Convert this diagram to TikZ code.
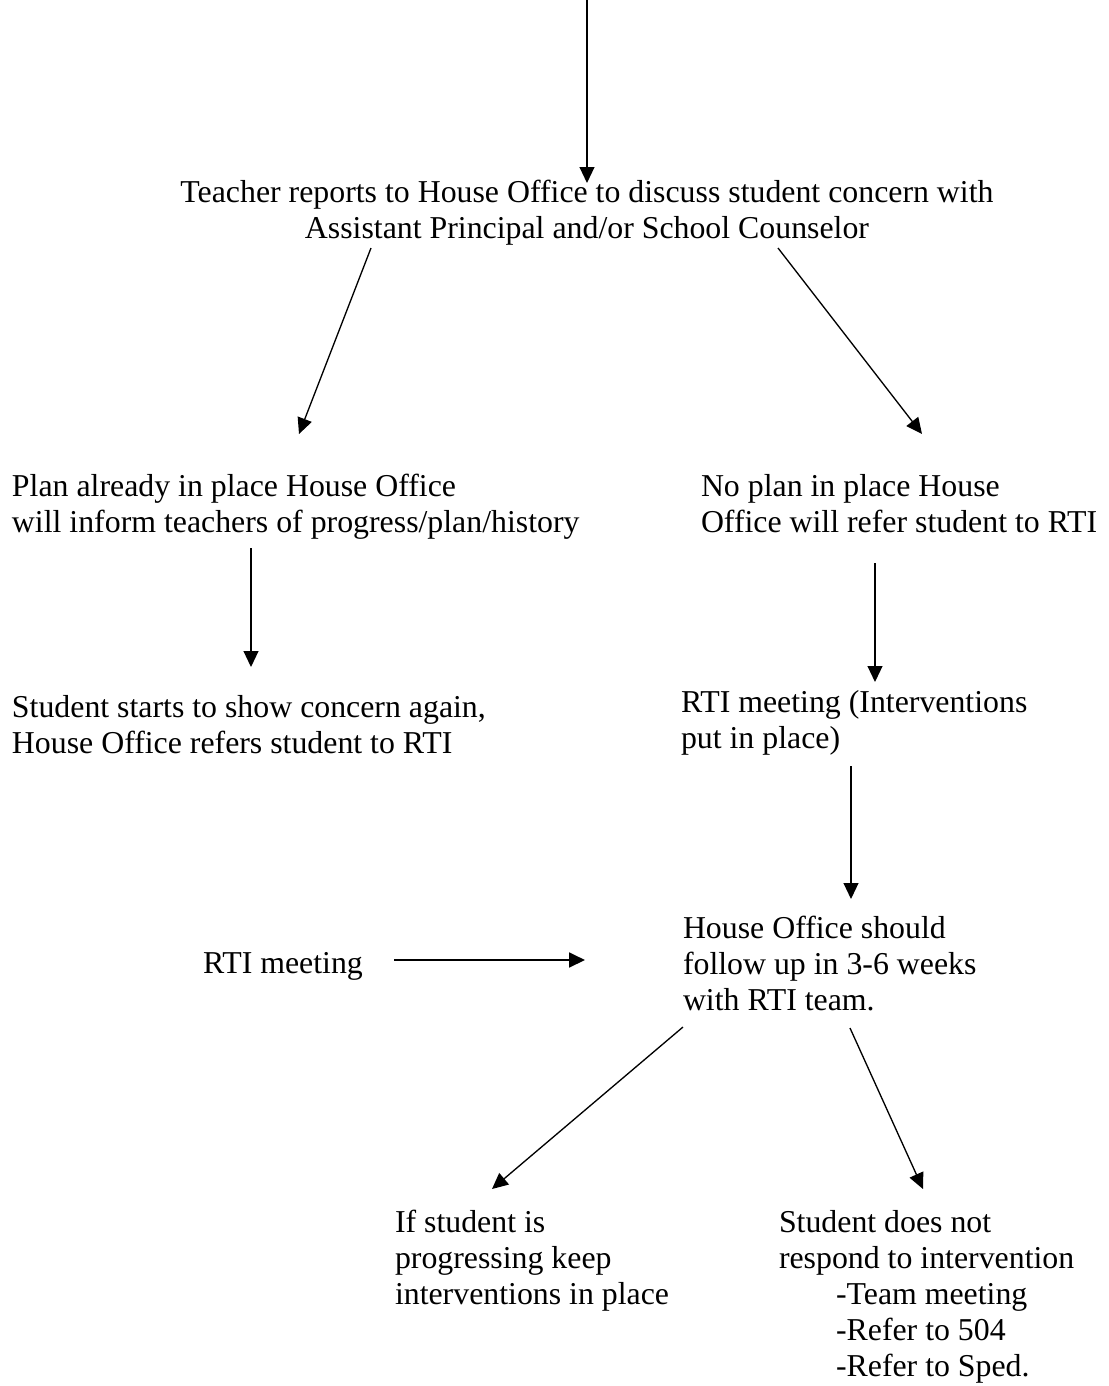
\documentclass[tikz,border=0pt]{standalone}
\usepackage{fontspec}
\setmainfont{Liberation Serif}
\usetikzlibrary{arrows.meta}
\begin{document}
\begin{tikzpicture}[x=0.377pt,y=-0.377pt,
  txt/.style={inner sep=0pt,outer sep=0pt,font=\fontsize{12}{13.57}\selectfont},
  lblock/.style={txt,align=left,anchor=base west},
  cblock/.style={txt,align=center,anchor=base},
  conn/.style={line width=0.5pt,-{Triangle[length=6pt,width=5.6pt]}},
  connthick/.style={line width=0.8pt,-{Triangle[length=6pt,width=5.6pt]}}]
\useasboundingbox (0,0) rectangle (1109,1386);
\fill[white] (0,0) rectangle (1109,1386);

% text blocks (anchored at the baseline of their last line)
\node[cblock] (teach) at (587,238) {Teacher reports to House Office to discuss student concern with\\Assistant Principal and/or School Counselor};
\node[lblock] (plan) at (12,532) {Plan already in place House Office\\will inform teachers of progress/plan/history};
\node[lblock] (noplan) at (701,532) {No plan in place House\\Office will refer student to RTI};
\node[lblock] (again) at (12,753) {Student starts to show concern again,\\House Office refers student to RTI};
\node[lblock] (rtim) at (681,748) {RTI meeting (Interventions\\put in place)};
\node[lblock] (follow) at (683,1010) {House Office should\\follow up in 3-6 weeks\\with RTI team.};
\node[lblock] (rtileft) at (203,973) {RTI meeting};
\node[lblock] (ifstud) at (395,1304) {If student is\\progressing keep\\interventions in place};
\node[lblock] (notresp) at (779,1376) {Student does not\\respond to intervention\\\hspace{21.5pt}-Team meeting\\\hspace{21.5pt}-Refer to 504\\\hspace{21.5pt}-Refer to Sped.};

% connector end points
\coordinate (a0s) at (587,0);    \coordinate (a0e) at (587,183);
\coordinate (a1s) at (371,248);  \coordinate (a1e) at (299,434);
\coordinate (a2s) at (778,248);  \coordinate (a2e) at (922,434);
\coordinate (a3s) at (251,548);  \coordinate (a3e) at (251,667);
\coordinate (a4s) at (875,563);  \coordinate (a4e) at (875,682);
\coordinate (a5s) at (851,766);  \coordinate (a5e) at (851,899);
\coordinate (a6s) at (394,960);  \coordinate (a6e) at (585,960);
\coordinate (a7s) at (683,1027); \coordinate (a7e) at (492,1189);
\coordinate (a8s) at (850,1028); \coordinate (a8e) at (923,1189);

% connectors
\draw[conn] (a0s) -- (a0e);
\draw[conn] (a1s) -- (a1e);
\draw[conn] (a2s) -- (a2e);
\draw[conn] (a3s) -- (a3e);
\draw[conn] (a4s) -- (a4e);
\draw[conn] (a5s) -- (a5e);
\draw[connthick] (a6s) -- (a6e);
\draw[conn] (a7s) -- (a7e);
\draw[conn] (a8s) -- (a8e);
\end{tikzpicture}
\end{document}
